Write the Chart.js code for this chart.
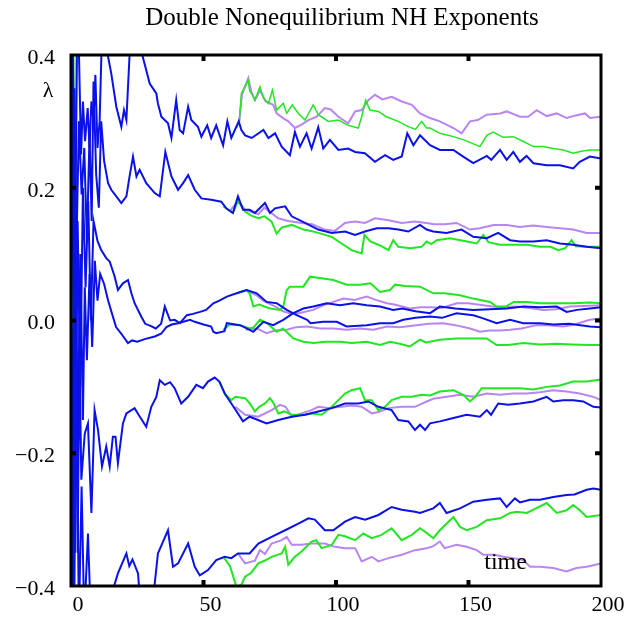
<!DOCTYPE html>
<html>
<head>
<meta charset="utf-8">
<script src="https://cdn.jsdelivr.net/npm/chart.js@4.4.1/dist/chart.umd.min.js"></script>
<style>
  html, body { margin: 0; padding: 0; background: #fff; }
  #wrap { width: 635px; height: 618px; }
</style>
</head>
<body>
<div id="wrap"><canvas id="c" width="635" height="618"></canvas></div>
<script>
// tick values
const xTicks = [0, 50, 100, 150, 200];
const yTicks = [-0.4, -0.2, 0, 0.2, 0.4];

// [time, lambda] pairs
const blue1 = [[0,0],[0.6,0.45],[1.5,0.1],[2.5,0.5],[3.8,0.25],[4.5,0.33],[5.3,0.27],[6.3,0.32],[7,0.26],[7.7,0.33],[8.5,0.3],[9.2,0.37],[10,0.26],[10.8,0.3],[11.8,0.45],[13,0.48],[14,0.397],[15.2,0.372],[17.1,0.322],[19,0.292],[20,0.317],[20.9,0.302],[22.1,0.4],[23,0.45],[26,0.44],[26.9,0.4],[28.4,0.377],[29.7,0.357],[32.2,0.342],[32.8,0.327],[34.1,0.307],[36.6,0.297],[37.9,0.275],[39.7,0.332],[41,0.287],[42.3,0.282],[44.2,0.322],[45.4,0.302],[47.9,0.292],[49.2,0.277],[51.4,0.294],[52.9,0.275],[54.8,0.294],[57.4,0.264],[59,0.3],[60.5,0.275],[63.3,0.3],[64.3,0.287],[65.7,0.279],[68.2,0.275],[72.6,0.287],[74.5,0.275],[77,0.282],[79.5,0.262],[82.6,0.249],[84.5,0.284],[86.4,0.262],[88.9,0.282],[90.8,0.259],[93.3,0.291],[95.2,0.259],[97.7,0.272],[100.9,0.257],[104.6,0.259],[107.2,0.254],[110.9,0.252],[114.7,0.239],[118.5,0.249],[121.6,0.242],[124.8,0.247],[126.9,0.282],[129.2,0.264],[131.7,0.279],[135.5,0.264],[139.2,0.257],[144.3,0.257],[148,0.247],[151.8,0.237],[156.9,0.248],[158.6,0.242],[161.9,0.257],[164.4,0.242],[166.9,0.254],[169.4,0.239],[171.9,0.248],[174.5,0.237],[179.5,0.234],[184.5,0.234],[189.5,0.229],[192,0.239],[195.8,0.247],[200,0.244]];
const blue2 = [[0,0],[0.5,-0.3],[1.3,0.35],[2,0.1],[3,0.3],[4,0.19],[5,0.26],[6,0.12],[7,0.28],[7.8,0.15],[8.5,0.36],[9.5,0.22],[10.5,0.17],[11.4,0.3],[12.5,0.24],[14,0.207],[15.2,0.197],[17.1,0.187],[19,0.177],[20.9,0.187],[22.1,0.217],[23.4,0.247],[24.7,0.217],[25.9,0.227],[28.4,0.207],[31.6,0.192],[33.5,0.187],[35.6,0.254],[37.9,0.217],[40.4,0.197],[42.3,0.207],[44.2,0.219],[46.7,0.197],[49.2,0.184],[52.9,0.182],[56.7,0.179],[58.6,0.169],[61.1,0.162],[63,0.187],[64.9,0.167],[67.4,0.167],[69.4,0.162],[73.2,0.177],[75.1,0.162],[77,0.169],[80.8,0.172],[83.3,0.157],[88.3,0.147],[93.3,0.137],[98.4,0.132],[103.4,0.134],[107.2,0.129],[110.9,0.134],[115.4,0.139],[119.8,0.139],[123.5,0.137],[127.3,0.134],[131.7,0.144],[134.2,0.137],[136.7,0.134],[141.7,0.132],[147.4,0.137],[151.8,0.126],[156.9,0.124],[161.2,0.132],[165.7,0.121],[169.4,0.119],[174.5,0.119],[179.5,0.121],[184.5,0.116],[189.5,0.114],[194.6,0.111],[200,0.109]];
const blue3 = [[0,0],[0.8,0.3],[1.5,-0.35],[2.5,0.15],[3.5,-0.1],[4.5,0.2],[5.5,0.05],[6.5,0.18],[7.5,0],[8.5,0.15],[10,0.12],[11.4,0.106],[13.3,0.094],[14.6,0.089],[16.5,0.066],[17.7,0.046],[19.6,0.056],[21.5,0.061],[22.8,0.041],[24,0.026],[26.5,0.006],[28,-0.005],[30,-0.008],[32,-0.012],[34,-0.005],[35.4,0.021],[37.4,0],[39.1,0.001],[41.1,-0.004],[43.7,0.008],[46,0.01],[48.7,0.013],[51,0.016],[53.7,0.026],[56,0.03],[58.8,0.036],[62.5,0.041],[66.3,0.046],[70.1,0.041],[73.8,0.028],[77.6,0.026],[81.4,0.016],[85.2,0.008],[89.1,0.001],[90.4,-0.004],[95.2,-0.002],[100.3,-0.002],[104,-0.009],[111.6,-0.007],[116.6,-0.004],[121.6,-0.004],[125.4,0.001],[130,0.004],[135.5,0.006],[140,0.004],[145.5,0.011],[151.8,0.008],[155,0.004],[160.6,-0.004],[165.7,0.001],[170.7,-0.004],[177,-0.004],[182,-0.006],[188,-0.005],[195.8,-0.009],[200,-0.01]];
const blue4 = [[0,0],[0.7,-0.4],[1.5,0.25],[2.5,-0.2],[3.5,0.1],[4.5,-0.15],[5.2,0.05],[6,-0.06],[7,0.07],[8,-0.04],[9,0.09],[10,0.03],[11,0.07],[12.5,0.055],[14,0.03],[15.5,0.01],[17,-0.01],[19,-0.02],[21.5,-0.034],[23,-0.03],[25,-0.032],[27.8,-0.028],[31.6,-0.024],[34,-0.02],[36,-0.01],[38,-0.006],[40.4,-0.004],[44.9,0.001],[46.7,-0.002],[50,-0.006],[52.9,-0.009],[53.7,-0.017],[54.8,-0.019],[57.9,-0.016],[58.8,-0.004],[63.8,-0.007],[67.4,-0.014],[68.8,-0.017],[72.6,-0.002],[76.3,-0.007],[80.1,0.001],[83.9,0.011],[87.7,0.018],[91.4,0.021],[96.5,0.026],[101.5,0.023],[106.5,0.026],[111.6,0.023],[116.6,0.021],[121.6,0.016],[125,0.018],[130,0.014],[135.5,0.011],[139.2,0.021],[145,0.018],[151.8,0.016],[158,0.017],[164.4,0.018],[170.7,0.021],[177,0.02],[183.3,0.021],[187,0.013],[191,0.016],[195.8,0.018],[200,0.02]];
const blue5 = [[0,0],[0.8,-0.45],[1.6,0.2],[2.5,-0.35],[3.2,-0.05],[3.9,-0.24],[5.2,-0.17],[6.4,-0.155],[7.7,-0.29],[8.9,-0.135],[10.2,-0.165],[11.7,-0.22],[13.3,-0.19],[14.6,-0.22],[15.8,-0.175],[16.8,-0.175],[17.7,-0.215],[19.6,-0.155],[20.9,-0.14],[24,-0.132],[25.5,-0.142],[28.4,-0.16],[30.3,-0.13],[32.2,-0.115],[33.5,-0.09],[35.4,-0.097],[37.4,-0.093],[39.1,-0.102],[41.6,-0.125],[44.2,-0.115],[47.3,-0.097],[49.8,-0.102],[51.7,-0.092],[54.2,-0.086],[56,-0.092],[58,-0.11],[60.5,-0.125],[63,-0.14],[64.9,-0.152],[67.4,-0.145],[69.4,-0.148],[73.8,-0.155],[78.2,-0.15],[83.3,-0.145],[88.3,-0.142],[93.3,-0.137],[98.4,-0.132],[103.4,-0.125],[108.4,-0.125],[112.2,-0.122],[116,-0.13],[121,-0.135],[123.5,-0.15],[127.3,-0.152],[129.8,-0.165],[131.7,-0.157],[133.6,-0.165],[135.5,-0.155],[139.2,-0.152],[144.3,-0.147],[149.3,-0.142],[154.3,-0.145],[156.9,-0.135],[158.5,-0.142],[161.2,-0.125],[165,-0.127],[169.4,-0.125],[174.5,-0.122],[179.5,-0.115],[182,-0.122],[185.8,-0.12],[189.5,-0.12],[193.3,-0.122],[197.1,-0.13],[200,-0.131]];
const blue6 = [[0,0],[0.9,-0.5],[2,-0.1],[3,-0.45],[4,-0.25],[5,-0.45],[6.4,-0.321],[7.5,-0.45],[10,-0.43],[13,-0.45],[15.5,-0.41],[17.7,-0.381],[20.9,-0.351],[22,-0.37],[23.2,-0.36],[25.3,-0.381],[26,-0.42],[30,-0.45],[31.5,-0.4],[32.8,-0.351],[36.6,-0.316],[38.5,-0.371],[40.4,-0.366],[44.2,-0.336],[46.7,-0.371],[48.6,-0.384],[51.7,-0.376],[54.8,-0.361],[58,-0.356],[60.5,-0.358],[63,-0.351],[67.4,-0.351],[70.7,-0.336],[75.7,-0.326],[80.8,-0.316],[85.8,-0.306],[89.6,-0.298],[92,-0.3],[95.8,-0.316],[99,-0.316],[103.4,-0.303],[107.2,-0.296],[111,-0.3],[116,-0.293],[121,-0.281],[124.8,-0.285],[129.8,-0.288],[131.7,-0.29],[136.7,-0.283],[139.2,-0.275],[141.7,-0.29],[146.8,-0.283],[151.8,-0.273],[156.9,-0.27],[161.9,-0.268],[164.4,-0.281],[167.5,-0.268],[169.4,-0.274],[173.2,-0.27],[177,-0.27],[182,-0.266],[187,-0.263],[190,-0.262],[194.6,-0.255],[197.1,-0.253],[200,-0.255]];

const green1 = [[62.5,0.29],[63.5,0.3],[64.3,0.342],[66.8,0.362],[67.5,0.345],[68.5,0.34],[69.4,0.332],[71.3,0.352],[72.6,0.335],[74.5,0.327],[76,0.347],[77.6,0.317],[80.1,0.327],[81.4,0.312],[83.5,0.325],[85.8,0.312],[88.3,0.302],[91.4,0.325],[93.3,0.31],[97.1,0.3],[100.9,0.302],[104.6,0.294],[108.4,0.29],[109.7,0.307],[111.2,0.332],[112.8,0.317],[116,0.315],[119,0.307],[123.5,0.3],[127.3,0.292],[130,0.288],[132.3,0.3],[134.2,0.29],[135.5,0.29],[139.2,0.282],[144.3,0.277],[149,0.271],[154.3,0.262],[156.9,0.279],[159.4,0.284],[163,0.276],[166.9,0.277],[170.5,0.27],[174.5,0.262],[178,0.262],[182,0.259],[185.8,0.257],[189.5,0.252],[192.5,0.255],[195.8,0.257],[200,0.257]];
const green2 = [[57.5,0.172],[61.1,0.162],[63,0.18],[65.7,0.164],[68,0.158],[70.7,0.154],[73,0.157],[75.7,0.149],[77.6,0.131],[79.5,0.14],[83.3,0.144],[87.7,0.137],[90.5,0.135],[93.3,0.132],[98.4,0.126],[102.1,0.116],[105.9,0.106],[109.7,0.101],[110.7,0.129],[113,0.119],[116.6,0.113],[119.8,0.106],[121.6,0.121],[123.5,0.111],[128,0.109],[132.3,0.111],[134.2,0.119],[136,0.115],[138,0.121],[143,0.124],[148,0.12],[153.1,0.116],[155.6,0.129],[157.5,0.118],[161.9,0.114],[167,0.114],[172,0.114],[177,0.111],[181,0.111],[183.9,0.106],[186.5,0.109],[188.9,0.121],[190.5,0.112],[194.6,0.111],[200,0.111]];
const green3 = [[62.5,0.041],[66.3,0.046],[67.5,0.04],[68.8,0.021],[71,0.024],[75.1,0.018],[78.9,0.016],[80.1,0.021],[81.4,0.046],[82.6,0.051],[87.7,0.051],[90.2,0.066],[93.9,0.064],[99,0.061],[104,0.054],[109.1,0.054],[113,0.056],[116.6,0.043],[120.4,0.046],[122.3,0.054],[126,0.052],[131.7,0.051],[136.7,0.041],[141,0.041],[146.8,0.038],[151.8,0.033],[158.1,0.028],[160.6,0.021],[164,0.021],[167.1,0.028],[172,0.028],[177,0.026],[183,0.026],[189.5,0.026],[195.8,0.027],[200,0.026]];
const green4 = [[57.5,-0.014],[60,-0.006],[63.8,-0.007],[67.5,-0.012],[69,-0.01],[71.3,0.001],[74,-0.004],[77.6,-0.017],[80,-0.012],[83.9,-0.027],[87.7,-0.032],[91.4,-0.034],[96,-0.032],[101.5,-0.032],[106,-0.034],[111.6,-0.032],[116.6,-0.037],[120.4,-0.032],[124,-0.035],[127.9,-0.039],[131.7,-0.029],[134,-0.033],[139.2,-0.029],[145.5,-0.027],[151,-0.027],[156.9,-0.027],[160.6,-0.037],[165,-0.037],[170.7,-0.034],[177,-0.036],[183.3,-0.035],[189,-0.036],[195.8,-0.037],[200,-0.037]];
const green5 = [[56,-0.092],[58,-0.11],[60.5,-0.12],[62,-0.115],[65.7,-0.117],[67.5,-0.125],[69.4,-0.137],[71,-0.13],[73.2,-0.125],[75.1,-0.117],[76.5,-0.125],[78.2,-0.14],[80.5,-0.137],[83.3,-0.142],[88,-0.142],[91,-0.14],[94.6,-0.142],[98.4,-0.13],[100.9,-0.12],[103.4,-0.11],[105.9,-0.105],[109.1,-0.102],[110.9,-0.12],[113.5,-0.12],[116,-0.135],[118.5,-0.13],[121,-0.12],[124.8,-0.115],[128.6,-0.115],[132.3,-0.112],[135.5,-0.113],[139.2,-0.107],[144.3,-0.105],[148,-0.112],[150.6,-0.122],[152.5,-0.115],[155,-0.102],[160,-0.102],[164.4,-0.102],[169.4,-0.102],[174.5,-0.104],[179.5,-0.1],[184.5,-0.098],[189.5,-0.092],[194.6,-0.092],[200,-0.089]];
const green6 = [[57.5,-0.356],[60,-0.37],[62.5,-0.402],[64.3,-0.398],[65.7,-0.386],[68,-0.38],[70.7,-0.366],[73,-0.362],[75.7,-0.356],[79.5,-0.351],[80.8,-0.341],[82,-0.368],[84.5,-0.356],[87,-0.348],[90.8,-0.333],[92.5,-0.331],[94.6,-0.343],[98.4,-0.338],[100.9,-0.323],[103.4,-0.325],[107.2,-0.331],[110.3,-0.321],[113.5,-0.328],[117.2,-0.323],[121,-0.313],[124.8,-0.331],[128.6,-0.323],[131.7,-0.313],[134.2,-0.32],[136.7,-0.328],[139.2,-0.316],[144.3,-0.296],[146.8,-0.311],[149.3,-0.316],[153.1,-0.311],[156.9,-0.301],[161.9,-0.298],[165.7,-0.29],[168.2,-0.288],[172,-0.29],[174.5,-0.285],[179.5,-0.275],[183.3,-0.29],[187,-0.286],[189.5,-0.278],[192,-0.286],[194.6,-0.296],[200,-0.293]];

const purple1 = [[63.5,0.3],[64.5,0.34],[66.9,0.365],[68,0.345],[69.4,0.332],[71.3,0.347],[73.5,0.33],[76.3,0.325],[77.6,0.312],[80,0.305],[82,0.3],[84.5,0.29],[87,0.295],[89.6,0.302],[92.7,0.307],[95.8,0.32],[98,0.318],[100.9,0.307],[104.6,0.297],[107.2,0.315],[109.7,0.317],[112.2,0.332],[114.7,0.34],[117.5,0.333],[121,0.337],[124.8,0.33],[128.6,0.325],[131.7,0.312],[135.5,0.305],[139.2,0.3],[144.3,0.29],[147.4,0.282],[150.6,0.3],[153.5,0.302],[156.9,0.31],[161.9,0.312],[164.4,0.315],[169.4,0.307],[172.5,0.307],[175.7,0.317],[179.5,0.308],[183.3,0.312],[187,0.305],[190.5,0.309],[194,0.312],[195.8,0.305],[200,0.307]];
const purple2 = [[60,0.165],[63,0.18],[65.7,0.167],[70.7,0.16],[73,0.17],[78.2,0.154],[82,0.15],[87,0.147],[91,0.145],[95.8,0.137],[99.6,0.135],[103.4,0.147],[105,0.148],[107.2,0.149],[110.9,0.147],[114.7,0.154],[119.8,0.151],[124.8,0.147],[129.8,0.149],[134.2,0.147],[137,0.145],[141,0.145],[145.5,0.147],[150.6,0.137],[154.3,0.139],[159.4,0.144],[164.4,0.144],[169.4,0.141],[174.5,0.143],[179.5,0.141],[184.5,0.139],[189.5,0.137],[194.6,0.132],[200,0.132]];
const purple3 = [[67,0.044],[70,0.038],[72.5,0.03],[75,0.025],[77.5,0.02],[80,0.014],[82.6,0.011],[86,0.011],[91.4,0.016],[95.2,0.023],[99,0.028],[102.8,0.033],[107,0.031],[111.6,0.036],[115,0.031],[119.2,0.026],[122,0.024],[127.9,0.018],[132,0.02],[136,0.02],[140,0.019],[145.5,0.026],[150,0.026],[155.6,0.023],[159,0.021],[163.1,0.02],[168,0.021],[173,0.019],[178.2,0.016],[183,0.017],[188.3,0.021],[193,0.022],[200,0.023]];
const purple4 = [[66,-0.014],[70.1,-0.012],[73.8,-0.019],[77,-0.015],[81.4,-0.014],[85,-0.01],[89.1,-0.009],[94,-0.012],[99,-0.012],[104,-0.014],[109,-0.012],[114.1,-0.014],[119.2,-0.009],[124,-0.01],[130.4,-0.007],[135,-0.005],[140.5,-0.004],[145,-0.007],[150.6,-0.012],[154.3,-0.017],[158,-0.015],[162,-0.015],[165.7,-0.014],[170,-0.012],[175.7,-0.007],[180,-0.007],[185.8,-0.009],[190,-0.006],[195.8,0.001],[200,0.003]];
const purple5 = [[62,-0.13],[65.7,-0.142],[70.7,-0.145],[75.7,-0.135],[78.9,-0.127],[81,-0.13],[83.3,-0.145],[87,-0.14],[90.8,-0.135],[93.3,-0.13],[97,-0.132],[102.1,-0.13],[105.9,-0.128],[109.7,-0.13],[113.5,-0.14],[116,-0.138],[119.8,-0.132],[124.8,-0.13],[129.8,-0.13],[134.2,-0.122],[136.7,-0.118],[141.7,-0.115],[146.8,-0.112],[151.8,-0.115],[156.9,-0.11],[161.9,-0.112],[166.9,-0.11],[172,-0.11],[177,-0.108],[182,-0.105],[187,-0.107],[192,-0.11],[197.1,-0.115],[200,-0.12]];
const purple6 = [[63,-0.351],[65.7,-0.366],[69.4,-0.362],[71.3,-0.346],[73.2,-0.352],[75.7,-0.336],[79.5,-0.331],[81.4,-0.326],[83.3,-0.338],[87,-0.338],[90.8,-0.336],[95.8,-0.336],[99.6,-0.341],[103.4,-0.343],[107.2,-0.343],[109.7,-0.363],[113.5,-0.356],[116,-0.363],[119.8,-0.358],[124.8,-0.353],[129.8,-0.346],[134.2,-0.343],[136.7,-0.34],[139.2,-0.333],[141,-0.343],[145.5,-0.338],[149.3,-0.341],[153.1,-0.346],[155.6,-0.353],[160,-0.353],[163.1,-0.356],[166.9,-0.358],[170.7,-0.361],[173.2,-0.371],[177,-0.371],[182,-0.373],[187,-0.378],[190.7,-0.373],[194.6,-0.371],[200,-0.366]];

// the very first green step, a tight zigzag at t ~ 0
const startZig = [[0,0.45],[0.5,-0.45],[1.0,0.45],[1.5,-0.45],[2.0,0.45]];

const BLUE = '#0a12e6';
const GREEN = '#22e622';
const PURPLE = '#b985f0';

function pts(arr, withStart) {
    const out = arr.map(([x, y]) => ({ x, y }));
    if (withStart) {
        const head = startZig.map(([x, y]) => ({ x, y }));
        head.push({ x: 2.4, y: null });
        return head.concat(out);
    }
    return out;
}

const datasets = [];
[blue1, blue2, blue3, blue4, blue5, blue6].forEach(s => datasets.push({ data: pts(s), borderColor: BLUE, order: 0 }));
[green1, green2, green3, green4, green5, green6].forEach((s, i) => datasets.push({ data: pts(s, i === 0), borderColor: GREEN, order: 1, borderWidth: i === 0 ? 1.5 : 2 }));
[purple1, purple2, purple3, purple4, purple5, purple6].forEach(s => datasets.push({ data: pts(s), borderColor: PURPLE, order: 2 }));

const SERIF = '"Liberation Serif", "Times New Roman", serif';

const fmtY = v => {
    if (Math.abs(v) < 1e-9) return '0.0';
    return v < 0 ? '\u2212' + Math.abs(v).toFixed(1) : v.toFixed(1);
};

// frame, inward ticks and the free texts
const decor = {
    id: 'decor',
    afterDatasetsDraw(chart) {
        const { ctx, chartArea: a, scales: { x, y } } = chart;
        ctx.save();
        ctx.fillStyle = '#000';
        xTicks.slice(1, -1).forEach(v => {
            const px = x.getPixelForValue(v);
            ctx.fillRect(px - 2, a.top, 4, 6);
            ctx.fillRect(px - 2, a.bottom - 6, 4, 6);
        });
        yTicks.slice(1, -1).forEach(v => {
            const py = y.getPixelForValue(v);
            ctx.fillRect(a.left, py - 2, 5, 4);
            ctx.fillRect(a.right - 6, py - 2, 6, 4);
        });
        ctx.lineWidth = 3;
        ctx.strokeStyle = '#000';
        ctx.strokeRect(a.left, a.top, a.right - a.left, a.bottom - a.top);

        ctx.textAlign = 'center';
        ctx.textBaseline = 'middle';
        ctx.font = '25px ' + SERIF;
        ctx.fillText('Double Nonequilibrium NH Exponents', (a.left + a.right) / 2 + 6, 18);
        ctx.font = '22px ' + SERIF;
        ctx.fillText('\u03bb', a.left - 23, y.getPixelForValue(0.345));
        ctx.font = '24px ' + SERIF;
        ctx.fillText('time', x.getPixelForValue(164), y.getPixelForValue(-0.365));
        ctx.restore();
    }
};

new Chart(document.getElementById('c'), {
    type: 'line',
    data: { datasets },
    options: {
        responsive: false,
        animation: false,
        layout: { padding: { left: 0, right: 34, top: 55, bottom: 0 } },
        elements: {
            line: { borderWidth: 2, tension: 0, fill: false },
            point: { radius: 0, hoverRadius: 0 }
        },
        plugins: { legend: { display: false }, tooltip: { enabled: false }, title: { display: false } },
        scales: {
            x: {
                type: 'linear', min: 0, max: 200,
                afterFit: s => { s.height = 32; },
                afterBuildTicks: s => { s.ticks = xTicks.map(v => ({ value: v })); },
                grid: { display: false, drawTicks: false },
                border: { display: false },
                ticks: { color: '#000', font: { family: SERIF, size: 22 }, padding: 6, labelOffset: 7, maxRotation: 0, callback: v => String(v) }
            },
            y: {
                type: 'linear', min: -0.4, max: 0.4,
                afterFit: s => { s.width = 71; },
                afterBuildTicks: s => { s.ticks = yTicks.map(v => ({ value: v })); },
                grid: { display: false, drawTicks: false },
                border: { display: false },
                ticks: { color: '#000', font: { family: SERIF, size: 22 }, padding: 16, labelOffset: 3, callback: fmtY }
            }
        }
    },
    plugins: [decor]
});
</script>
</body>
</html>
